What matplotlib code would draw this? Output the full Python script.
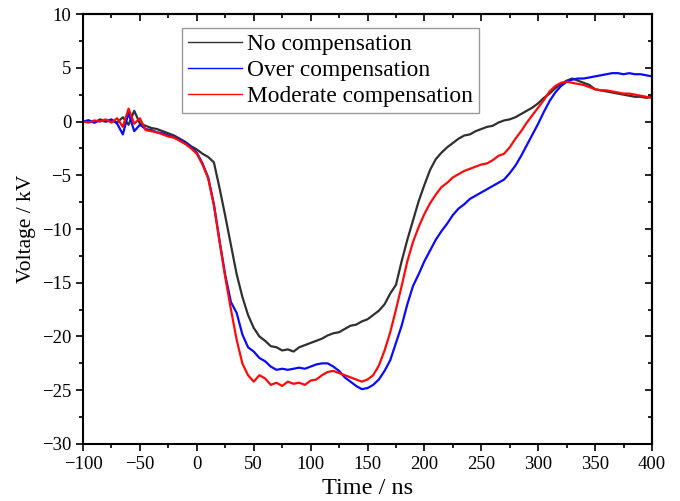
import numpy as np
import matplotlib
matplotlib.use("Agg")
import matplotlib.pyplot as plt

plt.rcParams['font.family'] = ['Liberation Serif', 'DejaVu Serif']
plt.rcParams['mathtext.fontset'] = 'stix'

# ---------------- data ----------------
time_ns = list(range(-100, 401, 5))

no_comp = [0.0, 0.1, -0.1, 0.2, 0.0, 0.1, -0.1, 0.4, -0.3, 1.0,
           -0.2, -0.4, -0.6, -0.7, -0.9, -1.1, -1.3, -1.6, -1.9, -2.3,
           -2.6, -3.0, -3.3, -3.8, -6.2, -8.8, -11.5, -14.2, -16.3, -18.0,
           -19.2, -20.0, -20.4, -20.9, -21.0, -21.3, -21.2, -21.4, -21.0, -20.8,
           -20.6, -20.4, -20.2, -19.9, -19.7, -19.6, -19.3, -19.0, -18.9, -18.6,
           -18.4, -18.0, -17.6, -17.0, -16.0, -15.2, -13.0, -11.0, -9.2, -7.4,
           -5.9, -4.5, -3.5, -2.9, -2.4, -2.0, -1.6, -1.3, -1.2, -0.9,
           -0.7, -0.5, -0.4, -0.1, 0.1, 0.2, 0.4, 0.7, 1.0, 1.3,
           1.7, 2.2, 2.6, 3.1, 3.5, 3.8, 4.0, 3.8, 3.6, 3.4,
           3.0, 2.9, 2.8, 2.7, 2.6, 2.5, 2.4, 2.3, 2.3, 2.2, 2.3]

over_comp = [0.0, 0.1, -0.1, 0.1, 0.0, 0.2, -0.2, -1.2, 0.8, -0.9,
             -0.3, -0.7, -0.8, -1.0, -1.1, -1.3, -1.5, -1.7, -2.0, -2.4,
             -2.9, -3.9, -5.2, -7.7, -11.1, -14.3, -16.8, -17.8, -19.8, -21.0,
             -21.4, -22.0, -22.3, -22.8, -23.1, -23.0, -23.1, -23.0, -22.9, -23.0,
             -22.8, -22.6, -22.5, -22.5, -22.8, -23.2, -23.8, -24.2, -24.6, -24.9,
             -24.8, -24.5, -24.0, -23.2, -22.2, -20.6, -19.0, -17.0, -15.3, -14.2,
             -13.0, -12.0, -11.0, -10.2, -9.5, -8.7, -8.1, -7.7, -7.2, -6.9,
             -6.6, -6.3, -6.0, -5.7, -5.4, -4.8, -4.1, -3.2, -2.2, -1.2,
             -0.2, 0.9, 1.9, 2.7, 3.3, 3.7, 3.9, 4.0, 4.0, 4.1,
             4.2, 4.3, 4.4, 4.5, 4.5, 4.4, 4.5, 4.4, 4.4, 4.3, 4.2]

moderate_comp = [0.0, -0.1, 0.1, 0.0, 0.2, -0.1, 0.3, -0.5, 1.2, -0.2,
                 0.3, -0.8, -0.9, -1.0, -1.2, -1.4, -1.5, -1.8, -2.1, -2.5,
                 -3.0, -4.0, -5.3, -7.8, -11.2, -14.5, -17.5, -20.3, -22.5, -23.6,
                 -24.2, -23.6, -23.9, -24.5, -24.3, -24.6, -24.2, -24.4, -24.3, -24.5,
                 -24.1, -24.0, -23.6, -23.3, -23.2, -23.4, -23.6, -23.8, -24.0, -24.2,
                 -24.0, -23.6, -22.7, -21.3, -19.6, -17.5, -15.3, -13.0, -11.2, -9.8,
                 -8.6, -7.6, -6.8, -6.1, -5.7, -5.2, -4.9, -4.6, -4.4, -4.2,
                 -4.0, -3.9, -3.6, -3.2, -3.0, -2.4, -1.6, -0.9, -0.1, 0.6,
                 1.3, 2.0, 2.8, 3.3, 3.6, 3.7, 3.6, 3.5, 3.4, 3.2,
                 3.0, 2.9, 2.9, 2.8, 2.7, 2.6, 2.6, 2.5, 2.4, 2.3, 2.2]

labels = ["No compensation", "Over compensation", "Moderate compensation"]
colors = ["#303030", "#0a0aff", "#ff0a0a"]

x_ticks = [-100, -50, 0, 50, 100, 150, 200, 250, 300, 350, 400]
y_ticks = [-30, -25, -20, -15, -10, -5, 0, 5, 10]

# ---------------- figure ----------------
fig = plt.figure(figsize=(6.8, 5.01), dpi=100)
ax = fig.add_axes([0.1221, 0.1138, 0.8367, 0.8582])

for series, lab, col in zip([no_comp, over_comp, moderate_comp], labels, colors):
    ax.plot(time_ns, series, color=col, lw=1.6, label=lab)

ax.set_xlim(-100, 400)
ax.set_ylim(-30, 10)
ax.set_xticks(x_ticks)
ax.set_yticks(y_ticks)
ax.set_xticks(np.arange(-75, 400, 50), minor=True)
ax.set_yticks(np.arange(-27.5, 10, 5), minor=True)

ax.tick_params(which='both', direction='out', top=False, right=False,
               labelsize=13.5, width=1.2, colors='black')
ax.tick_params(which='major', length=5)
ax.tick_params(which='minor', length=3)
for sp in ax.spines.values():
    sp.set_linewidth(1.5)

# mirrored inward ticks on top and right
secx = ax.secondary_xaxis('top')
secx.set_xticks(x_ticks)
secx.set_xticks(np.arange(-75, 400, 50), minor=True)
secx.tick_params(which='both', direction='in', labeltop=False, width=1.2)
secx.tick_params(which='major', length=5)
secx.tick_params(which='minor', length=3)
secx.spines['top'].set_linewidth(1.5)

secy = ax.secondary_yaxis('right')
secy.set_yticks(y_ticks)
secy.set_yticks(np.arange(-27.5, 10, 5), minor=True)
secy.tick_params(which='both', direction='in', labelright=False, width=1.2)
secy.tick_params(which='major', length=5)
secy.tick_params(which='minor', length=3)
secy.spines['right'].set_linewidth(1.5)

ax.set_xlabel("Time / ns", fontsize=17.5, labelpad=4)
ax.set_ylabel("Voltage / kV", fontsize=15.5, labelpad=4)

leg = ax.legend(loc='upper left', bbox_to_anchor=(0.174, 0.967), fontsize=16.8,
                frameon=True, fancybox=False, edgecolor='#808080',
                handlelength=2.3, handletextpad=0.25, labelspacing=0.2,
                borderpad=0.25, borderaxespad=0.0)
leg.get_frame().set_linewidth(1.0)
for line in leg.get_lines():
    line.set_linewidth(1.0)

fig.savefig("out.png", dpi=100)
